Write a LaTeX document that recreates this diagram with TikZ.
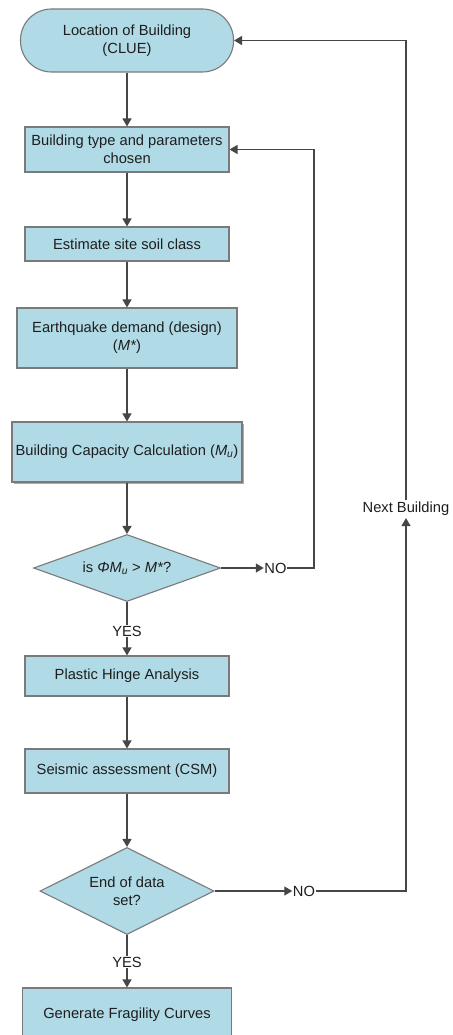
\documentclass[tikz,border=0pt]{standalone}
\usepackage{fontspec}
\setmainfont{Liberation Sans}
\usetikzlibrary{shapes.geometric,arrows.meta,shadows}
\definecolor{boxfill}{RGB}{176,218,230}
\definecolor{boxline}{RGB}{122,122,122}
\definecolor{arrowc}{RGB}{70,70,70}
\definecolor{txt}{RGB}{30,30,30}
\tikzset{
  base/.style={draw=boxline, fill=boxfill, line width=1.1pt, text=txt, align=center, inner sep=1pt,
    font=\fontsize{14.7}{18}\selectfont},
  procbox/.style={base, rectangle},
  termbox/.style={base, rectangle, rounded corners=31pt},
  decbox/.style={base, diamond, inner sep=0pt},
  lbl/.style={text=txt, inner sep=1pt, font=\fontsize{14.7}{18}\selectfont},
  conn/.style={draw=arrowc, line width=1.3pt},
  arr/.style={conn, -{Triangle[length=8pt,width=9pt]}},
}
\begin{document}
\begin{tikzpicture}[x=1pt,y=-1pt]
\useasboundingbox (0,0) rectangle (452,1035);
\begin{scope}
\clip (0,0) rectangle (452,1035);
\fill[white] (0,0) rectangle (452,1035);

\node[termbox, minimum width=213pt, minimum height=63pt] (loc) at (127,40.5) {Location of Building\\(CLUE)};
\node[procbox, minimum width=204pt, minimum height=45pt] (bt) at (127,149.5) {Building type and parameters\\chosen};
\node[procbox, minimum width=204pt, minimum height=34pt] (est) at (127,244) {Estimate site soil class};
\node[procbox, minimum width=220pt, minimum height=60pt] (eq) at (127,338) {Earthquake demand (design)\\(\textit{M*})};
\node[procbox, minimum width=230pt, minimum height=60pt, drop shadow={shadow xshift=2pt, shadow yshift=-2pt, fill=black!55, opacity=0.6}] (cap) at (127,452) {Building Capacity Calculation (\textit{M}\textsubscript{\textit{u}})};
\node[decbox, aspect=2.8, minimum width=187pt, minimum height=67pt] (d1) at (127,568) {is \textit{ΦM}\textsubscript{\textit{u}} > \textit{M*}?};
\node[lbl] (yes1) at (127,631) {YES};
\node[procbox, minimum width=204pt, minimum height=40pt] (ph) at (127,676) {Plastic Hinge Analysis};
\node[procbox, minimum width=204pt, minimum height=44pt] (sa) at (127,771) {Seismic assessment (CSM)};
\node[decbox, aspect=2, minimum width=174pt, minimum height=87pt] (d2) at (127,891) {End of data\\set?};
\node[lbl] (yes2) at (127,962) {YES};
\node[procbox, minimum width=209pt, minimum height=54pt] (gen) at (127,1015) {Generate Fragility Curves};

\node[lbl, inner sep=0.5pt] (no1) at (275.5,568) {NO};
\node[lbl, inner sep=0.5pt] (no2) at (304,891) {NO};
\node[lbl, inner sep=2pt] (next) at (406,509) {Next Building};
\coordinate (c1) at (314,568);
\coordinate (c2) at (406,891);

\draw[arr] (loc) -- (bt);
\draw[arr] (bt) -- (est);
\draw[arr] (est) -- (eq);
\draw[arr] (eq) -- (cap);
\draw[arr] (cap) -- (d1);
\draw[conn] (d1.south) -- (yes1.north);
\draw[arr] (yes1.south) -- (ph.north);
\draw[arr] (ph) -- (sa);
\draw[arr] (sa) -- (d2);
\draw[conn] (d2.south) -- (yes2.north);
\draw[arr] (yes2.south) -- (gen.north);

\draw[arr] (d1.east) -- (no1.west);
\draw[arr] (no1.east) -- (c1) |- (bt.east);
\draw[arr] (d2.east) -- (no2.west);
\draw[arr] (no2.east) -- (c2) -- (next.south);
\draw[arr] (next.north) |- (loc.east);
\end{scope}
\end{tikzpicture}
\end{document}
